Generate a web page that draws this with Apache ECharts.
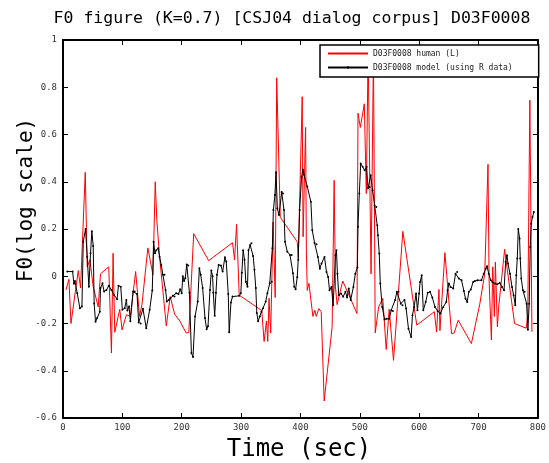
<!DOCTYPE html>
<html><head><meta charset="utf-8">
<script src="https://cdn.jsdelivr.net/npm/echarts@6/dist/echarts.min.js"></script>
<style>html,body{margin:0;padding:0;background:#fff}#c{width:549px;height:463px}</style>
</head><body><div id="c"></div>
<script>
const titleText = 'F0 figure (K=0.7) [CSJ04 dialog corpus] D03F0008';
const xLabel = 'Time (sec)';
const yLabel = 'F0(log scale)';
const humanName = 'D03F0008 human (L)';
const modelName = 'D03F0008 model (using R data)';

const humanT = [5,10,13.4,25.7,29.6,37.5,40.8,45.3,50.9,59.3,63.2,77.1,81.6,84.4,87.2,95.6,99.5,106.8,113.5,122.4,129,133,143,151.5,155.4,158,162.7,174,180.6,188,197,207.4,211.9,220.2,245.4,285.6,289,292.4,296.8,334.8,338.8,342.7,344.9,347.1,349.9,354,357.5,360,366,394.6,396.3,403,404.5,408.7,410,411.5,414.3,421,424.3,426.6,431,435,440,453.4,456.8,459,461.8,471.3,495.3,497,500.9,507.6,511,514,519,523,526,531.8,538.7,544.5,549.5,556.8,572.5,596,625.5,629.4,633.4,635,643.4,654.6,659,665.8,688,702,705,710.5,716,717.8,721.7,724,726.7,728.4,731.8,734,744,746.3,760.8,780.4,783,786.5,790];
const humanF0 = [-0.058,-0.013,-0.2,0.024,-0.05,0.44,0.04,0.07,-0.044,-0.13,0.01,0.04,-0.325,0.097,-0.237,-0.14,-0.227,-0.163,-0.17,0.02,-0.17,-0.12,0.12,0.006,0.4,0.24,0.083,-0.21,-0.086,-0.16,-0.19,-0.24,-0.238,0.18,0.066,0.142,0.07,0.22,-0.08,-0.145,-0.276,-0.19,-0.276,-0.093,-0.24,0.23,-0.09,0.84,0.25,0.146,0.076,0.76,0.167,0.63,0.11,-0.06,-0.03,-0.17,-0.144,-0.17,-0.137,-0.15,-0.528,-0.214,0.406,-0.045,-0.12,-0.02,-0.158,0.69,0.63,0.73,0.35,0.95,0.01,0.95,-0.24,-0.13,-0.094,-0.31,-0.14,-0.356,0.19,-0.207,-0.15,-0.235,-0.056,-0.23,0.1,-0.243,-0.24,-0.186,-0.285,-0.12,-0.123,0.011,0.474,-0.017,-0.27,0.04,-0.17,0.06,-0.214,-0.13,0.114,0.068,-0.2,-0.22,-0.16,0.745,-0.235];

const modelT = [7.3,16.2,18.4,20.1,24,28.5,31.9,34.1,38,40.8,43.6,46.4,48.6,50.9,52.5,54.8,57.6,62,63.2,66.5,69.3,73.2,77.1,81.6,86,91.1,93.4,97.3,100,104,106.8,108.5,111.3,113.5,118,120.8,124.7,127.5,130.8,134.7,140.3,146,150.4,152.6,154.9,157,160.4,162.7,165.5,168.3,171,172.8,175,178.3,181,185,187.8,190.6,194.6,197.3,200,201.8,204,206,208.5,211,213,216.3,219,222.5,227,229.7,232,235.3,239.2,242,244.3,247.6,249.9,252,253.2,255.5,257.7,259.4,262.2,266.1,268.9,272.8,275,278.4,280,282.9,285.6,296.8,299.6,301.3,303.5,305.8,308,310.8,312.5,315.3,317.5,320.3,322.5,324.8,326.5,328.7,331.5,334.3,337,341.5,344.3,348.3,351.6,352.7,354.4,357,358.9,361.1,363.9,368.4,370.6,372.3,374,377.9,382.4,385.2,387.4,389.6,391.9,394.6,396.3,398.6,401.9,404.2,405.9,411.5,417.6,419.9,423.8,427.1,429.4,432.7,435.5,440.5,443.9,446.7,449,452.3,455.1,459,460.7,462.3,464.6,468.5,471.9,475.8,478.6,481.4,484.7,489.2,492.5,495.9,497,499.2,501.5,504.8,508.2,511.5,513.8,516.6,518.3,521.6,525,527.8,529.4,530.6,532.8,534.5,537.8,541.7,545.1,549.6,552.9,555.7,559.6,562.4,565.2,569.1,571.9,575.3,578.1,582,586.5,588.7,591.5,594.8,597.1,599.9,601.6,604.3,607,611,614.4,618.3,622.2,626.6,631.1,635.6,640.6,645.7,647.9,650.1,652.9,657.4,661.3,664.1,666.9,671.4,675.3,678.1,680.9,683.7,687,691,693.7,698.2,704.9,708.8,712.2,714.4,717.2,720.6,723.4,727.3,731.8,735.7,739.6,743,745.7,748,749.6,753,756.4,759.1,762,763.6,765.3,767,769.2,770.3,772,774.8,777.6,781,783.2,785.4,787.1,788.8,791,793.3];
const modelF0 = [0.02,0.02,-0.032,-0.02,-0.072,-0.135,-0.128,0.146,0.2,0.083,-0.044,0.097,0.19,0.128,-0.115,-0.193,-0.177,-0.15,-0.05,-0.03,-0.065,-0.058,-0.04,-0.058,-0.079,-0.097,-0.04,-0.044,-0.142,-0.135,-0.1,-0.145,-0.128,-0.19,-0.065,-0.065,-0.075,-0.196,-0.2,-0.138,-0.22,-0.142,-0.06,0.146,0.097,0.11,0.118,0.083,0.048,0.006,0.006,-0.058,-0.107,-0.1,-0.093,-0.083,-0.086,-0.072,-0.075,-0.055,-0.072,0,-0.02,-0.008,0.05,0.045,-0.07,-0.325,-0.342,-0.17,-0.107,0.034,0.006,-0.05,-0.177,-0.224,-0.212,-0.058,0.024,0,-0.07,-0.167,-0.07,0.006,0.048,0.045,0.02,0.08,0.062,-0.075,-0.237,-0.111,-0.086,-0.083,-0.072,0.015,0.11,0.07,-0.023,-0.044,0.11,0.132,0.14,0.086,0.027,-0.05,-0.156,-0.19,-0.17,-0.15,-0.135,-0.107,-0.072,-0.03,-0.023,0.118,0.28,0.344,0.44,0.287,0.259,0.357,0.35,0.28,0.146,0.104,0.09,0.09,0.013,-0.044,-0.055,-0.004,0.07,0.28,0.42,0.452,0.43,0.38,0.315,0.195,0.141,0.135,0.082,0.032,0.054,0.082,0.018,-0.003,-0.059,-0.045,-0.123,0.089,0.11,0.011,-0.08,-0.073,-0.087,-0.066,-0.09,-0.052,-0.1,-0.045,0.011,0.037,0.209,0.35,0.477,0.463,0.449,0.463,0.371,0.378,0.427,0.364,0.3,0.293,0.216,0.174,0.096,-0.031,-0.13,-0.183,-0.18,-0.18,-0.144,-0.147,-0.1,-0.066,-0.066,-0.116,-0.123,-0.1,-0.137,-0.222,-0.257,-0.165,-0.13,-0.073,-0.144,-0.073,-0.024,0.004,-0.144,-0.109,-0.07,-0.066,-0.09,-0.13,-0.147,-0.158,-0.13,-0.109,-0.059,-0.031,-0.045,-0.052,0.011,0.018,-0.01,-0.017,-0.062,-0.095,-0.109,-0.066,-0.056,-0.024,-0.02,-0.017,-0.017,0.011,0.032,0.042,0.011,-0.017,-0.024,-0.031,-0.034,-0.028,-0.045,-0.059,0.061,0.089,0.054,0.011,-0.045,-0.08,-0.123,0.004,0.075,0.2,0.16,0.075,-0.01,-0.059,-0.066,-0.116,-0.226,-0.116,0.124,0.223,0.251,0.272];

const xMin = 0, xMax = 800, xStep = 100;
const yMin = -0.6, yMax = 1, yStep = 0.2;

const mono = "'DejaVu Sans Mono', 'Liberation Mono', monospace";
const chart = echarts.init(document.getElementById('c'), null, {renderer: 'canvas'});
const zip = (a, b) => a.map((v, i) => [v, b[i]]);

const axisCommon = {
  type: 'value', splitLine: {show: false},
  axisLine: {show: true, onZero: false, lineStyle: {color: '#000', width: 2}},
  axisTick: {show: true, inside: true, length: 5, lineStyle: {color: '#000', width: 1}},
};

chart.setOption({
  animation: false,
  backgroundColor: '#fff',
  grid: {left: 63, right: 9, top: 40, bottom: 45},
  legend: {
    orient: 'vertical', left: 320, top: 45,
    padding: [3, 26, 4, 7], itemGap: 3, itemWidth: 40, itemHeight: 3,
    backgroundColor: '#fff', borderColor: '#000', borderWidth: 1.5, borderRadius: 0,
    textStyle: {fontFamily: mono, fontSize: 8, color: '#222', lineHeight: 11},
    data: [
      {name: humanName, itemStyle: {opacity: 0}},
      {name: modelName}
    ]
  },
  xAxis: [
    Object.assign({}, axisCommon, {position: 'bottom', min: xMin, max: xMax, interval: xStep,
      axisLabel: {fontFamily: mono, fontSize: 9, color: '#333', margin: 5}}),
    Object.assign({}, axisCommon, {position: 'top', min: xMin, max: xMax, interval: xStep,
      axisLabel: {show: false}})
  ],
  yAxis: [
    Object.assign({}, axisCommon, {position: 'left', min: yMin, max: yMax, interval: yStep,
      axisLabel: {fontFamily: mono, fontSize: 9, color: '#333', margin: 6}}),
    Object.assign({}, axisCommon, {position: 'right', min: yMin, max: yMax, interval: yStep,
      axisLabel: {show: false}})
  ],
  graphic: [
    {type: 'text', x: 292, y: 19,
      style: {text: titleText, font: "16.5px 'DejaVu Sans Mono', monospace", fill: '#000',
        align: 'center', verticalAlign: 'middle'}},
    {type: 'text', x: 299, y: 450,
      style: {text: xLabel, font: "24px 'DejaVu Sans Mono', monospace", fill: '#000',
        align: 'center', verticalAlign: 'middle'}},
    {type: 'text', x: 27, y: 200, rotation: Math.PI / 2,
      style: {text: yLabel, font: "21px 'DejaVu Sans Mono', monospace", fill: '#000',
        align: 'center', verticalAlign: 'middle'}}
  ],
  series: [
    {name: humanName, type: 'line', data: zip(humanT, humanF0), showSymbol: false, symbol: 'none',
      lineStyle: {color: '#ff0000', width: 1}, itemStyle: {color: '#ff0000'}, z: 2},
    {name: modelName, type: 'line', data: zip(modelT, modelF0), symbol: 'circle', symbolSize: 2,
      showSymbol: true, lineStyle: {color: '#000', width: 1}, itemStyle: {color: '#000'}, z: 3}
  ]
});
</script></body></html>
